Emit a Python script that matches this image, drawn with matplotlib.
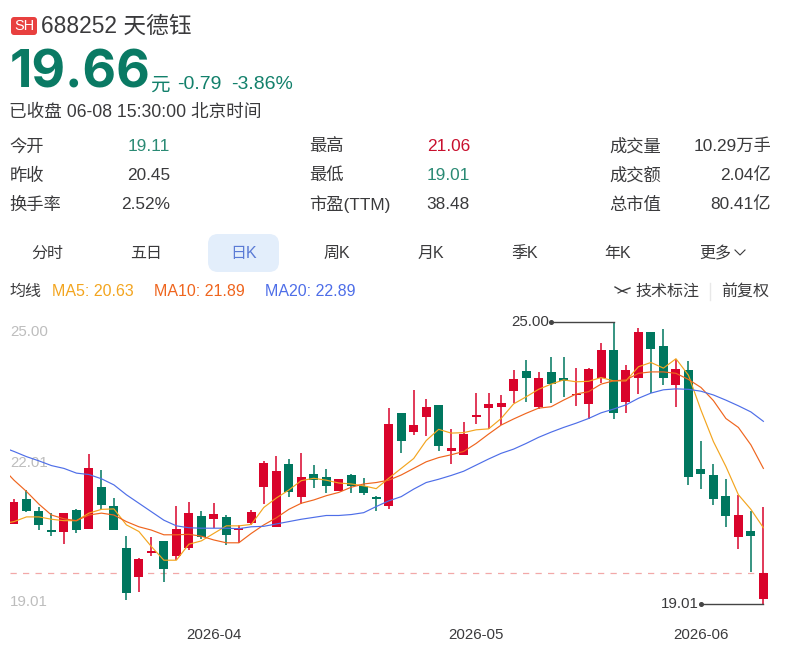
import matplotlib
matplotlib.use("Agg")
import matplotlib.pyplot as plt
from matplotlib.patches import FancyBboxPatch
import numpy as np

plt.rcParams['font.family'] = ['Liberation Sans', 'Noto Sans CJK SC', 'DejaVu Sans']

# Daily quotes for 688252
opens = [20.70,21.23,20.99,20.58,20.53,21.00,20.60,21.50,21.09,20.21,19.59,20.09,20.34,20.04,20.19,20.88,
         20.82,20.86,20.59,20.72,21.50,20.65,21.99,21.28,21.77,21.70,21.42,21.76,21.52,21.29,21.09,23.07,
         22.67,22.99,23.24,22.27,22.17,22.98,23.17,23.19,23.54,23.95,23.19,23.94,23.81,23.45,23.26,23.81,
         24.41,23.30,23.80,24.79,24.48,23.66,23.97,21.88,21.76,21.30,20.43,20.56,19.11]
closes = [21.18,20.99,20.69,20.53,20.95,20.58,21.90,21.12,20.58,19.24,19.97,20.14,19.76,20.60,20.94,20.43,
          20.92,20.48,20.62,20.97,22.01,21.83,21.39,21.70,21.65,21.52,21.67,21.52,21.37,21.23,22.84,22.47,
          22.81,23.19,22.37,22.32,22.62,23.03,23.26,23.27,23.78,23.81,23.82,23.69,23.75,23.47,24.00,24.41,
          23.06,23.98,24.79,24.42,23.80,24.00,21.71,21.77,21.23,20.87,20.89,20.45,19.66]
highs = [21.23,21.43,21.08,20.95,20.95,21.02,22.19,21.86,21.26,20.45,19.99,20.43,20.35,21.09,21.17,20.98,
         21.15,20.89,20.68,21.01,22.04,22.15,22.08,22.21,21.96,21.87,21.67,21.77,21.68,21.30,23.18,23.07,
         23.56,23.36,23.24,22.72,22.88,23.49,23.49,23.44,23.97,24.19,23.94,24.25,24.25,24.02,24.03,24.55,
         25.00,24.09,24.87,24.79,24.86,24.21,24.17,22.47,21.99,21.67,21.32,20.99,21.06]
lows = [20.70,20.96,20.58,20.45,20.28,20.52,20.60,21.01,20.58,19.09,19.27,20.04,19.48,19.94,20.15,20.39,
        20.62,20.27,20.31,20.69,21.13,20.65,21.28,21.13,21.47,21.37,21.42,21.37,21.32,20.98,21.03,22.22,
        22.61,22.57,22.25,21.98,22.17,22.84,22.73,22.81,23.29,23.31,23.16,23.27,23.40,23.21,22.93,23.71,
        22.93,23.07,23.48,23.50,23.66,23.19,21.54,21.45,21.11,20.65,20.18,19.69,19.01]

# Moving averages; the first value belongs to the session before the visible window
ma5 = [20.71,20.76,20.86,20.86,20.81,20.78,20.78,20.94,21.02,21.03,20.69,20.55,20.23,19.94,19.94,20.28,20.35,
       20.51,20.67,20.67,20.70,21.06,21.26,21.43,21.63,21.68,21.64,21.58,21.56,21.52,21.46,21.68,21.89,22.10,
       22.48,22.72,22.64,22.65,22.71,22.73,22.95,23.26,23.41,23.57,23.68,23.77,23.73,23.74,23.82,23.75,23.75,
       24.05,24.14,24.02,24.22,23.87,23.13,22.46,21.93,21.33,21.02,20.63]
ma10 = [21.92,21.64,21.40,21.13,20.90,20.82,20.78,20.90,20.94,20.90,20.76,20.65,20.58,20.48,20.48,20.49,20.45,
        20.37,20.31,20.31,20.51,20.69,20.84,21.02,21.15,21.22,21.31,21.38,21.49,21.56,21.59,21.64,21.75,21.89,
        22.03,22.12,22.18,22.25,22.42,22.62,22.81,22.94,23.06,23.17,23.20,23.34,23.47,23.52,23.68,23.75,23.77,
        23.91,23.94,23.94,23.91,23.78,23.61,23.33,22.95,22.76,22.39,21.89]
ma20 = [22.35,22.25,22.14,22.05,21.95,21.89,21.79,21.76,21.67,21.54,21.33,21.15,20.97,20.79,20.67,20.63,20.62,
        20.62,20.62,20.61,20.65,20.66,20.71,20.76,20.81,20.85,20.89,20.89,20.91,20.95,21.08,21.20,21.29,21.45,
        21.59,21.66,21.74,21.83,21.96,22.09,22.21,22.30,22.42,22.55,22.66,22.76,22.85,22.95,23.07,23.15,23.24,
        23.38,23.49,23.56,23.58,23.57,23.53,23.45,23.34,23.22,23.09,22.89]

date_ticks = [16, 37, 55]
date_labels = ["2026-04", "2026-05", "2026-06"]
price_ticks = [25.00, 22.01, 19.01]
price_labels = ["25.00", "22.01", "19.01"]
last_close = 19.66
high_idx, high_val = 48, 25.00
low_idx, low_val = 60, 19.01

UP = "#D9042B"
DOWN = "#00775F"
C_MA5 = "#F3A51F"
C_MA10 = "#EF651E"
C_MA20 = "#4E6EE8"
INK = "#3A3A3C"
QUOTE_GREEN = "#12806B"

W, H = 788, 659
fig = plt.figure(figsize=(W / 100, H / 100), dpi=100, facecolor="white")


def px(size):
    return size * 72 / 100


# Page furniture is laid out in screen pixels on a full-figure layer
ui = fig.add_axes([0, 0, 1, 1], zorder=0)
ui.set_xlim(0, W)
ui.set_ylim(H, 0)
ui.axis("off")


def label(x, y, s, size=17.3, color=INK, ha="left", **kw):
    ui.text(x, y + 1.5, s, fontsize=px(size), color=color, ha=ha, va="center", **kw)


ui.add_patch(FancyBboxPatch((11, 17), 26, 18, boxstyle="round,pad=0,rounding_size=3",
                            fc="#E8403F", ec="none", lw=0))
label(24.5, 25, "SH", 14.5, "white", ha="center")
label(41, 25, "688252 天德钰", 22.7)

label(10, 73, "19.66", 52, "#0A7A64", fontweight="bold", family="Inter")
label(150, 85, "元", 19.5, QUOTE_GREEN)
label(177, 83, "-0.79", 19.5, QUOTE_GREEN)
label(231, 83, "-3.86%", 19.5, QUOTE_GREEN)
label(9, 111, "已收盘 06-08 15:30:00 北京时间", 17.6)

rows_y = [145, 174, 203]
col1 = [("今开", "19.11", "#2A8A74"), ("昨收", "20.45", INK), ("换手率", "2.52%", INK)]
col2 = [("最高", "21.06", "#C8102E"), ("最低", "19.01", "#2A8A74"), ("市盈(TTM)", "38.48", INK)]
col3 = [("成交量", "10.29万手", INK), ("成交额", "2.04亿", INK), ("总市值", "80.41亿", INK)]
for (lx, rx, col) in [(9.5, 170, col1), (309.5, 470, col2), (609.5, 771, col3)]:
    for y, (name, value, c) in zip(rows_y, col):
        label(lx, y, name)
        label(rx, y, value, 17.3, c, ha="right")

ui.add_patch(FancyBboxPatch((208, 234), 71, 38, boxstyle="round,pad=0,rounding_size=10",
                            fc="#E3EEFB", ec="none", lw=0))
tabs = [("分时", 47), ("五日", 146), ("日K", 244), ("周K", 337), ("月K", 431), ("季K", 525), ("年K", 618), ("更多", 715)]
for name, cx in tabs:
    label(cx, 252, name, 16, "#5B7BD5" if name == "日K" else INK, ha="center")
ui.plot([735, 740, 745], [250, 255, 250], color=INK, lw=0.8)

label(9.5, 290, "均线", 16)
label(52, 290, "MA5: 20.63", 16, C_MA5)
label(154, 290, "MA10: 21.89", 16, C_MA10)
label(265, 290, "MA20: 22.89", 16, C_MA20)
ui.plot([615, 622, 630], [287, 291, 288], color=INK, lw=1)
ui.plot([618, 622, 627], [293, 291, 293], color=INK, lw=0.8)
label(635, 290, "技术标注", 16)
ui.plot([710, 710], [283, 300], color="#E8E8E8", lw=1)
label(721, 290, "前复权", 16)

# Candlestick panel: 12.49 px per session, 47.08 px per yuan
ax = fig.add_axes([10 / W, 1 - 620 / H, 759 / W, 310 / H], zorder=1)
ax.patch.set_alpha(0)
ax.set_xlim(-0.32, 60.45)
ax.set_ylim(18.67, 25.255)
for s in ax.spines.values():
    s.set_visible(False)
ax.set_yticks([])
ax.set_xticks(date_ticks)
ax.set_xticklabels(date_labels, fontsize=px(15), color=INK)
ax.tick_params(axis="x", length=0, pad=6)

offsets = [-10, 0, 2]
for val, text, off in zip(price_ticks, price_labels, offsets):
    ax.annotate(text, xy=(0, val), xycoords=("axes fraction", "data"), xytext=(0, off),
                textcoords="offset pixels", fontsize=px(15), color="#BDBDBD", va="center", zorder=1)

ax.axhline(last_close, color="#F2A8A8", lw=0.9, dashes=(5, 5), zorder=1)

idx = np.arange(len(opens))
for i, o, c, h, l in zip(idx, opens, closes, highs, lows):
    col = UP if c >= o else DOWN
    ax.vlines(i, l, h, color=col, lw=1.1, zorder=2)
    bottom = min(o, c)
    height = max(abs(c - o), 0.03)
    ax.bar(i, height, bottom=bottom, width=0.72, color=col, lw=0, zorder=3)

ma_x = np.arange(-1, len(opens))
ax.plot(ma_x, ma5, color=C_MA5, lw=0.85, zorder=4)
ax.plot(ma_x, ma10, color=C_MA10, lw=0.85, zorder=4)
ax.plot(ma_x, ma20, color=C_MA20, lw=0.85, zorder=4)

# Leader lines to the session extremes
for i, val, run in [(high_idx, high_val, 5.0), (low_idx, low_val, 5.0)]:
    ax.plot([i - run, i], [val, val], color="#444444", lw=1, zorder=5, clip_on=False)
    ax.plot([i - run], [val], "o", ms=2.6, color="#444444", zorder=5)
    ax.text(i - run - 0.15, val, f"{val:.2f}", fontsize=px(15), color=INK, ha="right", va="center", zorder=5)

fig.savefig("out.png", dpi=100, facecolor="white")
